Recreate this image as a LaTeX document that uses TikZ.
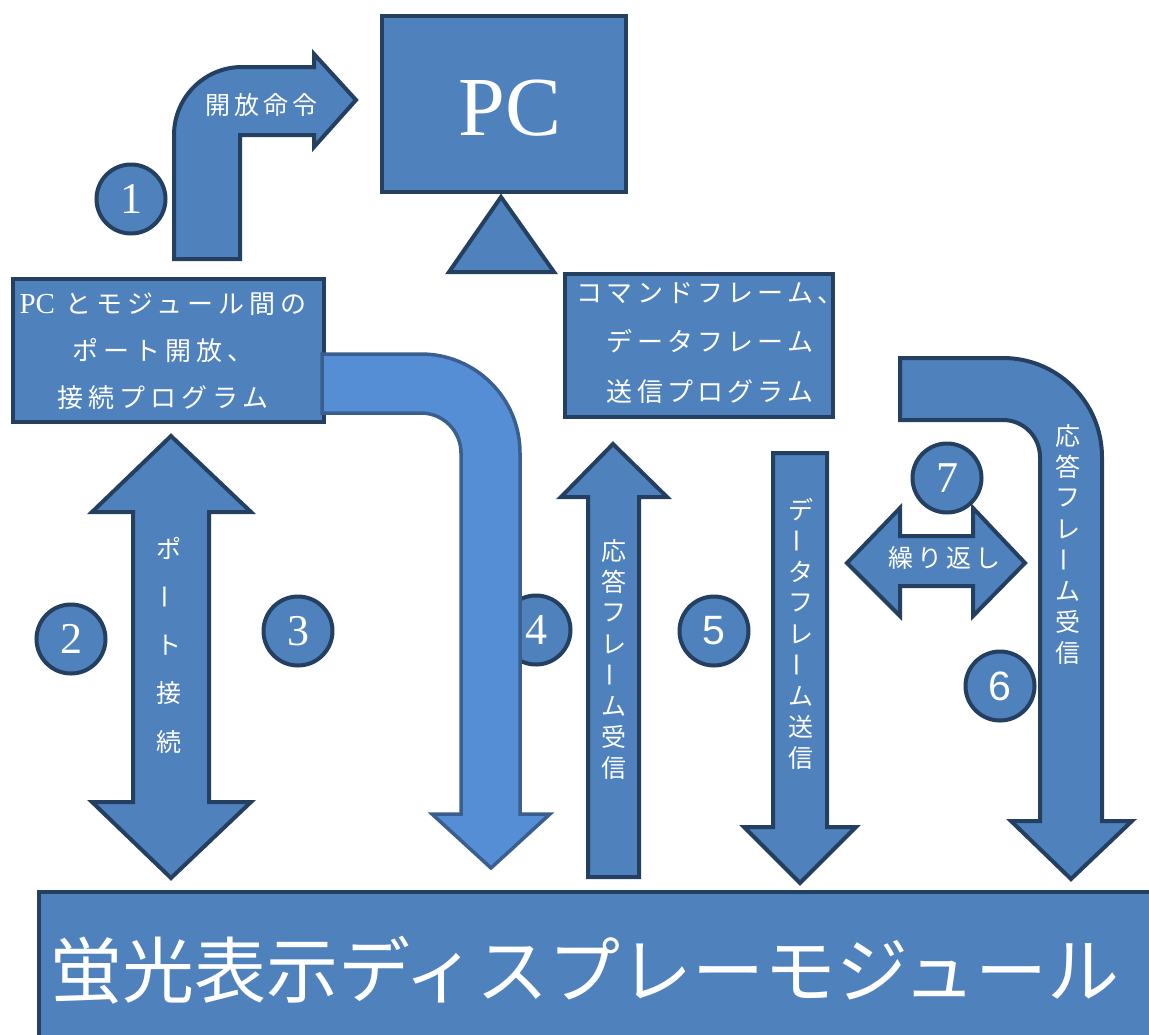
\documentclass[tikz,border=0pt]{standalone}
\usepackage{fontspec}
\usepackage{graphicx}
\newfontfamily\jp{Noto Sans CJK JP}
\newfontfamily\jpls[LetterSpace=16]{Noto Sans CJK JP}
\newfontfamily\jplsw[LetterSpace=19]{Noto Sans CJK JP}
\newfontfamily\lsans{Liberation Sans}
\newfontfamily\lserif{Liberation Serif}
\definecolor{fillblue}{HTML}{4F81BD}
\definecolor{lightblue}{HTML}{558ED5}
\definecolor{edgeblue}{HTML}{243F60}
\definecolor{edgemid}{HTML}{3A5F8F}
\newcommand\vbar{\rotatebox[origin=c]{90}{ー}}
\begin{document}
\begin{tikzpicture}[x=1pt,y=-1pt,
  blk/.style={fill=fillblue,draw=edgeblue,line width=4pt,line join=miter},
  blklight/.style={fill=lightblue,draw=edgemid,line width=3.5pt,line join=miter},
  boxnode/.style={blk,rectangle,inner sep=0pt},
  num/.style={circle,fill=fillblue,draw=edgeblue,line width=4pt,minimum size=69pt,inner sep=0pt,text=white,font=\lserif\fontsize{44}{44}\selectfont},
  numsans/.style={num,font=\lsans\fontsize{41}{41}\selectfont},
  jtxt/.style={text=white,inner sep=0pt,align=center},
  vch/.style={text=white,inner sep=0pt,font=\jp\fontsize{25}{25}\selectfont},
]
\useasboundingbox (0,0) rectangle (1149,1034);
\clip (0,0) rectangle (1149,1034);

% PC box and stand
\node[boxnode,minimum width=244pt,minimum height=176pt] (pc) at (504,104) {};
\node[jtxt,font=\lserif\fontsize{84}{84}\selectfont] (pclabel) at (510,108) {PC};
\draw[blk] (501,197) -- (554,272) -- (449,272) -- cycle;

% arrow 1 (bent)
\draw[blk] (174,259) -- (174,135) arc[start angle=180,end angle=270,radius=68]
  -- (314,67) -- (314,54) -- (356,100) -- (314,147) -- (314,135) -- (240,135) -- (240,259) -- cycle;
\node[jtxt,font=\jpls\fontsize{25}{25}\selectfont] (open) at (261,105) {開放命令};
\node[num] (n1) at (131,199) {1};

% box B
\node[boxnode,minimum width=268pt,minimum height=143pt] (progB) at (699,345.5) {};
\node[jtxt,font=\jpls\fontsize{26}{49.5}\selectfont] (progBtxt) at (710,343) {コマンドフレーム、\\データフレーム\\送信プログラム};

% arrow 2 (double vertical)
\draw[blk] (171,436) -- (251,512) -- (209,512) -- (209,802) -- (251,802) -- (171,878)
  -- (92,802) -- (133,802) -- (133,512) -- (92,512) -- cycle;
\foreach \c [count=\i] in {ポ,\vbar,ト,接,続}
  \node[vch] (t2-\i) at (169,{548+48.5*(\i-1)}) {\c};
\node[num] (n2) at (71,639) {2};
\node[num] (n3) at (298,631) {3};
\node[num] (n4) at (536,630) {4};

% box A
\node[boxnode,minimum width=311pt,minimum height=143pt] (progA) at (168.5,350.5) {};
\node[jtxt,font=\jplsw\fontsize{26}{47}\selectfont] (progAtxt) at (163,351) {{\lserif\fontsize{29}{29}\selectfont PC} とモジュール間の\\ポート開放、\\接続プログラム};

% arrow 3 (light, bent down)
\draw[blklight] (322,354) -- (421,354) arc[start angle=270,end angle=360,radius=99]
  -- (520,814) -- (550,814) -- (491,868) -- (432,814) -- (461,814)
  -- (461,453) arc[start angle=0,end angle=-90,radius=40] -- (322,413) -- cycle;

% arrow 4 (up)
\draw[blk] (613,444) -- (667,497) -- (639,497) -- (639,877) -- (588,877) -- (588,497) -- (561,497) -- cycle;
\foreach \c [count=\i] in {応,答,フ,レ,\vbar,ム,受,信}
  \node[vch] (t4-\i) at (614,{551+31*(\i-1)}) {\c};
\node[numsans] (n5) at (714,631) {5};

% arrow 5 (down)
\draw[blk] (773,453) -- (827,453) -- (827,827) -- (856,827) -- (800,883) -- (744,827) -- (773,827) -- cycle;
\foreach \c [count=\i] in {デ,\vbar,タ,フ,レ,\vbar,ム,送,信}
  \node[vch] (t5-\i) at (801,{510+31*(\i-1)}) {\c};

% arrow 6 (bent down)
\draw[blk] (900,358) -- (1003,358) arc[start angle=270,end angle=360,radius=99]
  -- (1102,821) -- (1132,821) -- (1071,879) -- (1011,821) -- (1040,821)
  -- (1040,457) arc[start angle=0,end angle=-90,radius=37] -- (900,420) -- cycle;
\foreach \c [count=\i] in {応,答,フ,レ,\vbar,ム,受,信}
  \node[vch] (t6-\i) at (1068,{436+31*(\i-1)}) {\c};
\node[numsans] (n6) at (1000,686) {6};

% arrow 7 (double horizontal)
\draw[blk] (847,563) -- (900,508) -- (900,536) -- (973,536) -- (973,508) -- (1025,563)
  -- (973,616) -- (973,586) -- (900,586) -- (900,616) -- cycle;
\node[jtxt,font=\jpls\fontsize{25}{25}\selectfont] (rep) at (944,558) {繰り返し};
\node[num] (n7) at (947,478) {7};

% bottom module
\draw[blk] (39,892) rectangle (1170,1060);
\node[jtxt,font=\jp\fontsize{72}{72}\selectfont] (module) at (585,970) {蛍光表示ディスプレーモジュール};
\end{tikzpicture}
\end{document}
